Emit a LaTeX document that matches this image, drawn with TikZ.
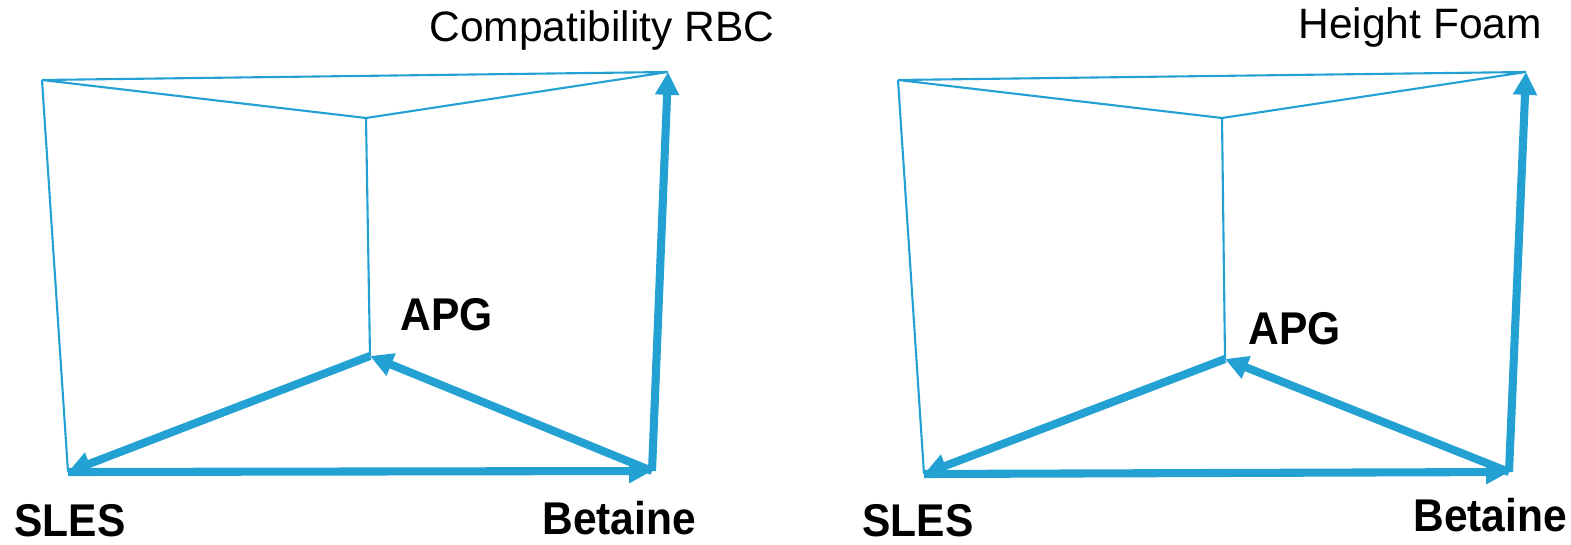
\documentclass[tikz,border=0pt]{standalone}
\usepackage{fontspec}
\setmainfont{Liberation Sans}
\usetikzlibrary{arrows.meta}
\definecolor{lineblue}{RGB}{35,161,211}
\begin{document}
\begin{tikzpicture}[x=0.02cm, y=-0.02cm, >={Triangle[length=13pt,width=13pt]}, line join=round,
	frame/.style={draw=lineblue, line width=1.2pt},
	flow/.style={draw=lineblue, line width=4.6pt, ->},
	title/.style={anchor=base west, inner sep=0pt, font=\fontsize{24.2}{28}\selectfont},
	corner/.style={anchor=base west, inner sep=0pt, yscale=1.08, transform shape, font=\fontsize{24.2}{28}\selectfont\bfseries}]
	\useasboundingbox (0,0) rectangle (1571,544);
	% corners: top left, top right, top middle, APG, SLES, Betaine
	\foreach \n/\dx/\ay/\ax/\sy/\by/\bx/\tx in
	{ 1/0/356/370/472/471/652/668,
		2/856/359/1225/474/472/1509/1526
	}
	{
		\coordinate (tl\n) at (42+\dx,80);
		\coordinate (tr\n) at (\tx,72);
		\coordinate (tm\n) at (366+\dx,118);
		\coordinate (a\n) at (\ax,\ay);
		\coordinate (s\n) at (68+\dx,\sy);
		\coordinate (b\n) at (\bx,\by);
	}
	\foreach \n in {1,2} {
		\draw[frame] (tl\n) -- (tr\n) (tl\n) -- (tm\n) -- (tr\n) (tm\n) -- (a\n) (tl\n) -- (s\n);
		\draw[flow] (a\n) -- (s\n);
		\draw[flow] (b\n) -- (a\n);
		\draw[flow] (s\n) -- (b\n);
		\draw[flow] (b\n) -- (tr\n);
	}
	\node[title] (rbc) at (429,42) {Compatibility RBC};
	\node[title] (foam) at (1298,39) {Height Foam};
	\node[corner] (apg1) at (400,330) {APG};
	\node[corner] (apg2) at (1248,344) {APG};
	\node[corner] (sles1) at (14,536) {SLES};
	\node[corner] (sles2) at (862,536) {SLES};
	\node[corner] (bet1) at (542,534) {Betaine};
	\node[corner] (bet2) at (1413,531) {Betaine};
\end{tikzpicture}
\end{document}
